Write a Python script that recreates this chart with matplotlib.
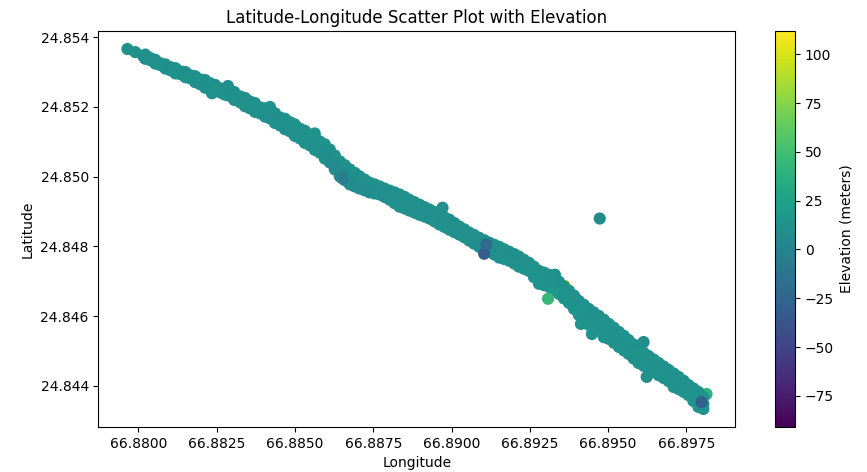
import numpy as np
import matplotlib
matplotlib.use("Agg")
from matplotlib import pyplot as plt

# GPS track, in drawing order
# hidden extremes first (they set the colour range), then the track passes, then the odd points on top
under_lon = [66.88706, 66.89362, 66.89814]
under_lat = [24.84980, 24.84687, 24.84377]
under_elev = [-91, 112, 40]

track_lon = [
    66.87965, 66.87990, 66.88016,
    66.88038, 66.88038, 66.88070, 66.88070, 66.88102, 66.88102,
    66.88134, 66.88134, 66.88165, 66.88165, 66.88197, 66.88197,
    66.88229, 66.88235, 66.88261, 66.88261, 66.88286, 66.88286,
    66.88325, 66.88325, 66.88356, 66.88356, 66.88388, 66.88388,
    66.88420, 66.88420, 66.88452, 66.88452, 66.88484, 66.88484,
    66.88515, 66.88515, 66.88547, 66.88547, 66.88579, 66.88579,
    66.88611, 66.88611, 66.88611, 66.88643, 66.88643, 66.88643,
    66.88675, 66.88675, 66.88675, 66.88706, 66.88706, 66.88706,
    66.88738, 66.88738, 66.88738, 66.88770, 66.88770, 66.88770,
    66.88802, 66.88802, 66.88802, 66.88834, 66.88834, 66.88834,
    66.88865, 66.88865, 66.88865, 66.88897, 66.88897, 66.88897,
    66.88929, 66.88929, 66.88929, 66.88961, 66.88961, 66.88961,
    66.88971,
    66.88993, 66.88993, 66.88993, 66.89025, 66.89025, 66.89025,
    66.89056, 66.89056, 66.89056, 66.89088, 66.89088, 66.89088,
    66.89120, 66.89120, 66.89120, 66.89152, 66.89152, 66.89152,
    66.89184, 66.89184, 66.89184, 66.89215, 66.89215, 66.89215,
    66.89247, 66.89247, 66.89247, 66.89279, 66.89279, 66.89279,
    66.89311, 66.89311, 66.89311, 66.89330,
    66.89343, 66.89343, 66.89343, 66.89375, 66.89375, 66.89375,
    66.89406, 66.89406, 66.89406, 66.89413,
    66.89438, 66.89438, 66.89438, 66.89448,
    66.89470, 66.89470, 66.89470, 66.89502, 66.89502, 66.89502,
    66.89534, 66.89534, 66.89534, 66.89565, 66.89565, 66.89565,
    66.89597, 66.89597, 66.89597, 66.89613, 66.89623,
    66.89629, 66.89629, 66.89629, 66.89661, 66.89661, 66.89661,
    66.89693, 66.89693, 66.89693, 66.89725, 66.89725, 66.89725,
    66.89756, 66.89756, 66.89756, 66.89788, 66.89788, 66.89788,
    66.89804, 66.89804, 66.89804,
]
track_lat = [
    24.85366, 24.85357, 24.85345,
    24.85340, 24.85334, 24.85325, 24.85320, 24.85314, 24.85305,
    24.85302, 24.85294, 24.85291, 24.85282, 24.85279, 24.85265,
    24.85268, 24.85239, 24.85253, 24.85242, 24.85251, 24.85233,
    24.85230, 24.85213, 24.85216, 24.85196, 24.85199, 24.85182,
    24.85193, 24.85167, 24.85170, 24.85147, 24.85156, 24.85130,
    24.85138, 24.85110, 24.85121, 24.85090, 24.85101, 24.85069,
    24.85078, 24.85055, 24.85041, 24.85044, 24.85021, 24.85001,
    24.85021, 24.84998, 24.84978, 24.85001, 24.84980, 24.84966,
    24.84983, 24.84969, 24.84955, 24.84972, 24.84960, 24.84949,
    24.84960, 24.84949, 24.84934, 24.84949, 24.84932, 24.84914,
    24.84934, 24.84917, 24.84903, 24.84920, 24.84906, 24.84891,
    24.84906, 24.84894, 24.84880, 24.84891, 24.84877, 24.84863,
    24.84911,
    24.84877, 24.84863, 24.84848, 24.84857, 24.84845, 24.84834,
    24.84840, 24.84828, 24.84817, 24.84825, 24.84814, 24.84799,
    24.84811, 24.84799, 24.84785, 24.84799, 24.84785, 24.84768,
    24.84785, 24.84771, 24.84759, 24.84771, 24.84756, 24.84742,
    24.84753, 24.84739, 24.84730, 24.84730, 24.84713, 24.84693,
    24.84719, 24.84702, 24.84684, 24.84719,
    24.84699, 24.84681, 24.84664, 24.84673, 24.84656, 24.84638,
    24.84644, 24.84624, 24.84604, 24.84578,
    24.84621, 24.84598, 24.84575, 24.84549,
    24.84601, 24.84581, 24.84558, 24.84578, 24.84558, 24.84535,
    24.84555, 24.84535, 24.84512, 24.84532, 24.84512, 24.84492,
    24.84506, 24.84486, 24.84466, 24.84526, 24.84426,
    24.84486, 24.84469, 24.84449, 24.84466, 24.84449, 24.84431,
    24.84446, 24.84429, 24.84414, 24.84426, 24.84411, 24.84391,
    24.84403, 24.84388, 24.84374, 24.84383, 24.84362, 24.84340,
    24.84368, 24.84348, 24.84334,
]
track_elev = [
    12, 11, 10,
    11, 9, 10, 12, 11, 10,
    12, 10, 11, 9, 12, 10,
    11, 10, 12, 11, 10, 12,
    11, 10, 12, 11, 10, 11,
    12, 10, 11, 12, 10, 11,
    12, 10, 11, 10, 10, 12,
    11, 9, 7, 12, 8, 4,
    11, 7, 5, 10, 8, 6,
    11, 9, 7, 12, 10, 8,
    11, 10, 9, 10, 11, 9,
    12, 10, 11, 11, 12, 10,
    10, 11, 9, 12, 10, 11,
    9,
    11, 10, 12, 10, 9, 11,
    12, 8, 10, 9, 6, 8,
    8, 5, 10, 11, 9, 10,
    12, 10, 9, 10, 8, 11,
    11, 9, 12, 10, 12, 14,
    11, 13, 15, 9,
    12, 14, 16, 11, 13, 15,
    12, 14, 13, 12,
    11, 13, 15, 14,
    12, 14, 13, 11, 12, 14,
    13, 12, 11, 12, 14, 13,
    11, 13, 12, 8, 10,
    12, 11, 13, 13, 12, 10,
    11, 13, 12, 12, 10, 14,
    11, 13, 12, 12, 14, 13,
    13, 12, 14,
]

# second pass along the same road, filling the band between the first-pass fixes
pass2_lon = [
    66.88022, 66.88022, 66.88054, 66.88054, 66.88086, 66.88086,
    66.88118, 66.88118, 66.88150, 66.88150, 66.88181, 66.88181,
    66.88213, 66.88213, 66.88245, 66.88245, 66.88274, 66.88274,
    66.88306, 66.88306, 66.88340, 66.88340, 66.88372, 66.88372,
    66.88404, 66.88404, 66.88436, 66.88436, 66.88468, 66.88468,
    66.88499, 66.88499, 66.88531, 66.88531, 66.88563, 66.88563,
    66.88595, 66.88595, 66.88595, 66.88627, 66.88627, 66.88627,
    66.88659, 66.88659, 66.88659, 66.88691, 66.88691, 66.88691,
    66.88722, 66.88722, 66.88722, 66.88754, 66.88754, 66.88754,
    66.88786, 66.88786, 66.88786, 66.88818, 66.88818, 66.88818,
    66.88850, 66.88850, 66.88850, 66.88881, 66.88881, 66.88881,
    66.88913, 66.88913, 66.88913, 66.88945, 66.88945, 66.88945,
    66.88977, 66.88977, 66.88977, 66.89009, 66.89009, 66.89009,
    66.89041, 66.89041, 66.89041, 66.89072, 66.89072, 66.89072,
    66.89104, 66.89104, 66.89104, 66.89136, 66.89136, 66.89136,
    66.89168, 66.89168, 66.89168, 66.89200, 66.89200, 66.89200,
    66.89231, 66.89231, 66.89231, 66.89263, 66.89263, 66.89263,
    66.89295, 66.89295, 66.89295, 66.89327, 66.89327, 66.89327,
    66.89359, 66.89359, 66.89359, 66.89391, 66.89391, 66.89391,
    66.89422, 66.89422, 66.89422, 66.89454, 66.89454, 66.89454,
    66.89486, 66.89486, 66.89486, 66.89518, 66.89518, 66.89518,
    66.89550, 66.89550, 66.89550, 66.89581, 66.89581, 66.89581,
    66.89613, 66.89613, 66.89613, 66.89645, 66.89645, 66.89645,
    66.89677, 66.89677, 66.89677, 66.89709, 66.89709, 66.89709,
    66.89741, 66.89741, 66.89741, 66.89772, 66.89772, 66.89772,
]
pass2_lat = [
    24.85350, 24.85338, 24.85335, 24.85324, 24.85322, 24.85310,
    24.85311, 24.85296, 24.85300, 24.85285, 24.85288, 24.85271,
    24.85277, 24.85255, 24.85263, 24.85245, 24.85252, 24.85236,
    24.85243, 24.85220, 24.85226, 24.85202, 24.85211, 24.85186,
    24.85196, 24.85172, 24.85182, 24.85154, 24.85166, 24.85136,
    24.85150, 24.85117, 24.85132, 24.85097, 24.85114, 24.85077,
    24.85093, 24.85070, 24.85052, 24.85061, 24.85038, 24.85021,
    24.85033, 24.85010, 24.84990, 24.85011, 24.84989, 24.84972,
    24.84992, 24.84975, 24.84961, 24.84978, 24.84965, 24.84952,
    24.84966, 24.84955, 24.84942, 24.84955, 24.84941, 24.84924,
    24.84942, 24.84925, 24.84909, 24.84927, 24.84912, 24.84897,
    24.84913, 24.84900, 24.84886, 24.84899, 24.84886, 24.84872,
    24.84884, 24.84870, 24.84856, 24.84867, 24.84854, 24.84841,
    24.84849, 24.84837, 24.84826, 24.84833, 24.84821, 24.84808,
    24.84818, 24.84807, 24.84792, 24.84805, 24.84792, 24.84777,
    24.84792, 24.84778, 24.84764, 24.84778, 24.84764, 24.84751,
    24.84762, 24.84748, 24.84736, 24.84742, 24.84726, 24.84712,
    24.84725, 24.84708, 24.84689, 24.84709, 24.84692, 24.84674,
    24.84686, 24.84669, 24.84651, 24.84659, 24.84640, 24.84621,
    24.84633, 24.84611, 24.84590, 24.84611, 24.84590, 24.84567,
    24.84590, 24.84570, 24.84547, 24.84567, 24.84547, 24.84524,
    24.84544, 24.84524, 24.84502, 24.84519, 24.84499, 24.84479,
    24.84496, 24.84478, 24.84458, 24.84476, 24.84459, 24.84440,
    24.84456, 24.84439, 24.84423, 24.84436, 24.84420, 24.84403,
    24.84415, 24.84400, 24.84383, 24.84393, 24.84375, 24.84357,
]
pass2_elev = [
    11, 10, 10, 11, 12, 10,
    11, 12, 10, 11, 12, 10,
    11, 10, 10, 12, 11, 10,
    12, 11, 10, 11, 11, 12,
    12, 10, 10, 11, 11, 10,
    12, 11, 10, 12, 11, 10,
    12, 9, 8, 11, 8, 5,
    11, 7, 5, 10, 8, 6,
    11, 9, 7, 12, 10, 9,
    11, 10, 9, 10, 11, 10,
    12, 10, 11, 11, 10, 9,
    10, 11, 9, 12, 10, 11,
    11, 10, 12, 10, 11, 9,
    12, 10, 11, 10, 8, 9,
    9, 7, 10, 11, 10, 9,
    12, 10, 11, 10, 9, 11,
    11, 10, 12, 12, 13, 14,
    12, 14, 13, 13, 12, 15,
    12, 14, 15, 13, 12, 14,
    12, 14, 13, 11, 13, 15,
    12, 13, 14, 13, 12, 11,
    12, 14, 13, 11, 13, 12,
    12, 11, 13, 13, 12, 11,
    11, 13, 12, 12, 11, 14,
    11, 13, 12, 12, 14, 13,
]

# extra fixes sticking out of the band edges
bump_lon = [66.88286, 66.88420, 66.88563, 66.89359, 66.89486, 66.89709]
bump_lat = [24.85260, 24.85200, 24.85124, 24.84652, 24.84540, 24.84397]
bump_elev = [10, 11, 12, 14, 13, 12]

over_lon = [66.88652, 66.89104, 66.89111, 66.89308, 66.89798, 66.89473]
over_lat = [24.84995, 24.84779, 24.84805, 24.84650, 24.84354, 24.84880]
over_elev = [-4, -32, -22, 45, -28, 7]

lon = np.array(under_lon + track_lon + pass2_lon + bump_lon + over_lon)
lat = np.array(under_lat + track_lat + pass2_lat + bump_lat + over_lat)
elev = np.array(under_elev + track_elev + pass2_elev + bump_elev + over_elev)

fig = plt.figure(figsize=(8.67, 4.72), dpi=100)
ax = fig.add_axes([0.1136, 0.0953, 0.7347, 0.8390])
cax = fig.add_axes([0.8939, 0.0953, 0.0231, 0.8390])

sc = ax.scatter(lon, lat, c=elev, cmap="viridis", s=60)
ax.set_title("Latitude-Longitude Scatter Plot with Elevation")
ax.set_xlabel("Longitude")
ax.set_ylabel("Latitude")

cbar = fig.colorbar(sc, cax=cax)
cbar.set_label("Elevation (meters)")

fig.savefig("out.png", dpi=100)
